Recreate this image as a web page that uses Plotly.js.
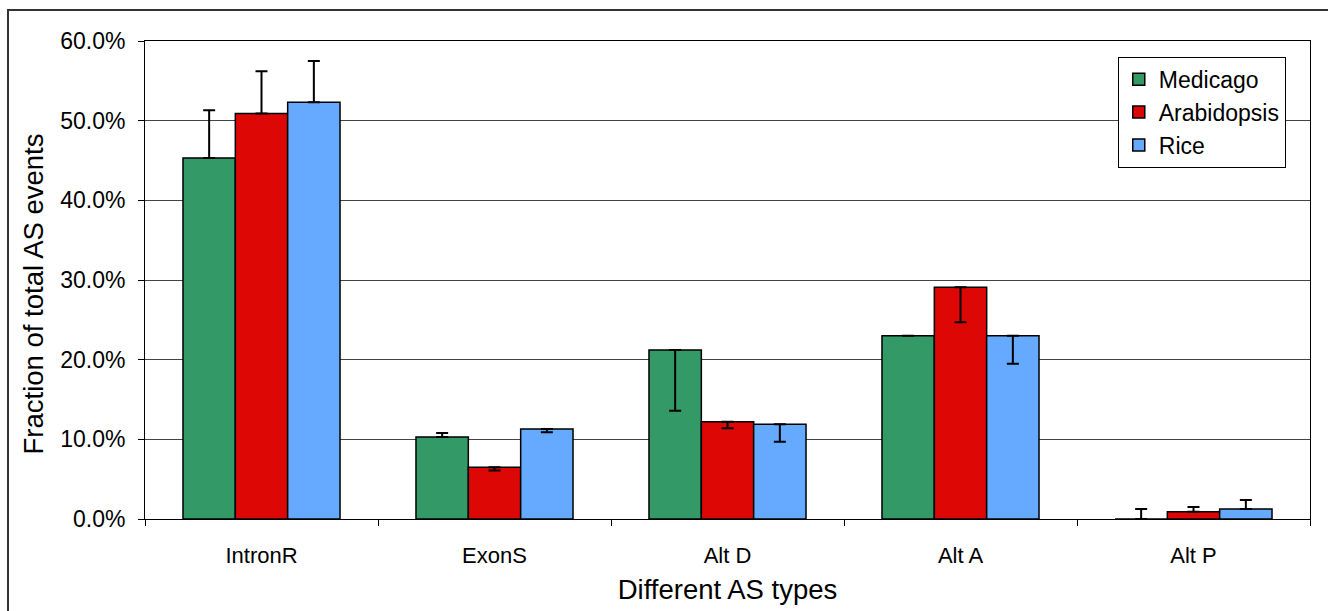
<!DOCTYPE html>
<html>
<head>
<meta charset="utf-8">
<script src="https://cdn.plot.ly/plotly-3.0.1.min.js"></script>
<style>html,body{margin:0;padding:0;background:#fff;}#chart{width:1328px;height:611px;}</style>
</head>
<body>
<div id="chart"></div>
<script>
const categories = ["IntronR", "ExonS", "Alt D", "Alt A", "Alt P"];
const seriesNames = ["Medicago", "Arabidopsis", "Rice"];
const medicago = [45.3, 10.3, 21.2, 23.0, 0.0];
const arabidopsis = [50.9, 6.5, 12.2, 29.1, 0.9];
const rice = [52.3, 11.3, 11.9, 23.0, 1.25];
const medicagoErrPlus = [6.0, 0.5, 0, 0, 1.25];
const medicagoErrMinus = [0, 0, 7.6, 0, 0];
const arabidopsisErrPlus = [5.3, 0, 0, 0, 0.6];
const arabidopsisErrMinus = [0, 0.4, 0.8, 4.4, 0];
const riceErrPlus = [5.2, 0, 0, 0, 1.15];
const riceErrMinus = [0, 0.4, 2.2, 3.5, 0];
const colors = ["#339966", "#DD0806", "#66AAFF"];
const yTicks = [0, 10, 20, 30, 40, 50, 60];
const xTitle = "Different AS types";
const yTitle = "Fraction of total AS events";

const values = [medicago, arabidopsis, rice];
const plus = [medicagoErrPlus, arabidopsisErrPlus, riceErrPlus];
const minus = [medicagoErrMinus, arabidopsisErrMinus, riceErrMinus];

const traces = seriesNames.map((n, i) => ({
  type: "bar",
  name: n,
  x: categories,
  y: values[i],
  marker: {color: colors[i], line: {color: "#000", width: 1.5}},
  error_y: {type: "data", symmetric: false, array: plus[i], arrayminus: minus[i],
            color: "#000", thickness: 2, width: 6, visible: true}
}));

const font = "Liberation Sans, Arial, sans-serif";
const layout = {
  width: 1328, height: 611,
  margin: {l: 145, r: 18, t: 41, b: 92},
  paper_bgcolor: "#fff", plot_bgcolor: "#fff",
  barmode: "group", bargap: 0.326, bargroupgap: 0,
  font: {family: font, color: "#000"},
  showlegend: true,
  legend: {x: 0.835, y: 0.967, xanchor: "left", yanchor: "top",
           bgcolor: "#fff", bordercolor: "#000", borderwidth: 1,
           font: {size: 23, family: font}, tracegroupgap: 6, itemwidth: 30},
  xaxis: {
    range: [-0.5, 4.5],
    showline: true, linecolor: "#000", linewidth: 1, mirror: true,
    ticks: "outside", ticklen: 6, tickcolor: "#000", tickson: "boundaries",
    tickfont: {size: 22, family: font}, showgrid: false,
    ticklabelstandoff: 17,
    title: {text: xTitle, font: {size: 27.5, family: font}, standoff: 12},
    fixedrange: true
  },
  yaxis: {
    range: [0, 60],
    tickvals: yTicks,
    ticktext: yTicks.map(v => v.toFixed(1) + "%"),
    showline: true, linecolor: "#000", linewidth: 1, mirror: true,
    ticks: "outside", ticklen: 6, tickcolor: "#000",
    tickfont: {size: 23, family: font},
    ticklabelstandoff: 8,
    showgrid: true, gridcolor: "#444", gridwidth: 1,
    zeroline: false,
    fixedrange: true
  },
  annotations: [{text: yTitle, xref: "paper", yref: "paper",
                 x: -0.096, y: 0.47, xanchor: "center", yanchor: "middle",
                 textangle: -90, showarrow: false,
                 font: {size: 27.5, family: font, color: "#000"}}],
  shapes: [{type: "rect", xref: "paper", yref: "paper",
            x0: -0.1176, x1: 1.3, y0: -0.4, y1: 1.065,
            line: {color: "#333", width: 2}, fillcolor: "rgba(0,0,0,0)", layer: "below"}]
};

Plotly.newPlot("chart", traces, layout, {displayModeBar: false, staticPlot: true});
</script>
</body>
</html>
